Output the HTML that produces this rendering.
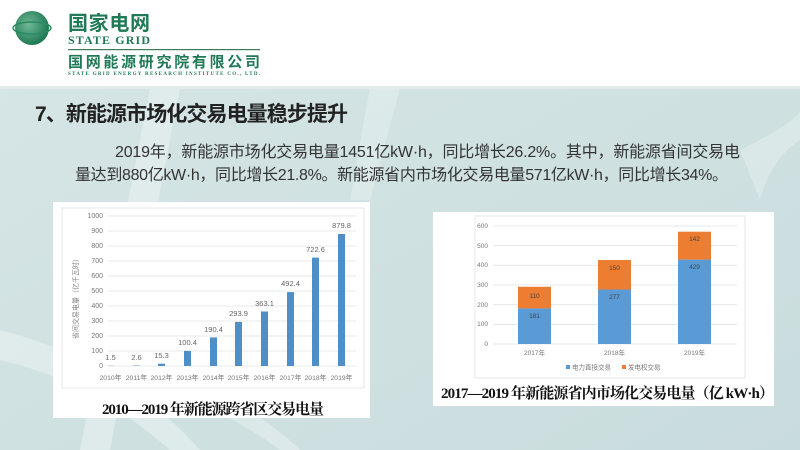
<!DOCTYPE html>
<html><head><meta charset="utf-8">
<style>
html,body{margin:0;padding:0;width:800px;height:450px;overflow:hidden;background:#fff}
svg{display:block}
</style></head><body>
<svg width="800" height="450" viewBox="0 0 800 450" xmlns="http://www.w3.org/2000/svg">
<defs>
<linearGradient id="bg" x1="0" y1="0" x2="1" y2="1">
<stop offset="0" stop-color="#d7e6e6"/><stop offset="1" stop-color="#c9dcdd"/>
</linearGradient>
<radialGradient id="globe" cx="0.4" cy="0.4" r="0.6">
<stop offset="0" stop-color="#6fb894"/><stop offset="1" stop-color="#1f7a55"/>
</radialGradient>
</defs>
<rect x="0" y="0" width="800" height="450" fill="url(#bg)"/>
<!-- light stripes -->
<path d="M150 88 L180 88 L110 450 L80 450 Z" fill="#e6efef" opacity="0.7"/>
<path d="M0 330 Q120 360 200 450 L170 450 Q90 380 0 360 Z" fill="#e6efef" opacity="0.7"/>
<path d="M190 380 Q260 410 300 450 L280 450 Q240 420 190 400 Z" fill="#e6efef" opacity="0.6"/>
<path d="M370 88 L400 88 L370 200 L350 200 Z" fill="#e3eeee" opacity="0.6"/>
<path d="M740 150 Q800 120 800 110 L800 140 Q770 160 760 200 Z" fill="#e6efef" opacity="0.5"/>
<!-- header -->
<rect x="0" y="0" width="800" height="86" fill="#ffffff"/>
<rect x="0" y="86" width="800" height="3" fill="#e2eaea"/>
<circle cx="32" cy="28" r="17" fill="url(#globe)"/>
<ellipse cx="32" cy="28" rx="19" ry="6" fill="none" stroke="#2a8a60" stroke-width="1.5"/>
<text x="68" y="30" font-family="Liberation Sans, Noto Sans CJK SC, sans-serif" font-weight="bold" font-size="20" fill="#1f7a55" textLength="82">国家电网</text>
<text x="68" y="44" font-family="Liberation Serif, serif" font-weight="bold" font-size="12" fill="#1f7a55" textLength="82">STATE GRID</text>
<rect x="68" y="49" width="192" height="1.2" fill="#3c7a5a"/>
<text x="68" y="67" font-family="Liberation Sans, Noto Sans CJK SC, sans-serif" font-weight="bold" font-size="15" fill="#1f7a55" textLength="192">国网能源研究院有限公司</text>
<text x="68" y="75" font-family="Liberation Serif, serif" font-weight="bold" font-size="5" fill="#1f7a55" textLength="192">STATE GRID ENERGY RESEARCH INSTITUTE CO., LTD.</text>
<!-- title & body -->
<text x="35" y="121" font-family="Liberation Sans, Noto Sans CJK SC, sans-serif" font-weight="bold" font-size="21" fill="#222" textLength="313">7、新能源市场化交易电量稳步提升</text>
<text x="115" y="157" font-family="Liberation Sans, Noto Sans CJK SC, sans-serif" font-size="16" fill="#333" textLength="625">2019年，新能源市场化交易电量1451亿kW·h，同比增长26.2%。其中，新能源省间交易电</text>
<text x="75" y="180" font-family="Liberation Sans, Noto Sans CJK SC, sans-serif" font-size="16" fill="#333" textLength="653">量达到880亿kW·h，同比增长21.8%。新能源省内市场化交易电量571亿kW·h，同比增长34%。</text>
<!-- left panel -->
<rect x="53" y="202" width="317" height="216" fill="#fff"/>
<rect x="62" y="208" width="302" height="180" fill="none" stroke="#e4e8ea" stroke-width="1"/>
<g font-family="Liberation Sans, sans-serif" font-size="7" fill="#777" text-anchor="end">
<g stroke="#e3e3e3" stroke-width="0.8">
<line x1="108" x2="356" y1="216" y2="216"/><line x1="108" x2="356" y1="231" y2="231"/><line x1="108" x2="356" y1="246" y2="246"/><line x1="108" x2="356" y1="261" y2="261"/><line x1="108" x2="356" y1="276" y2="276"/><line x1="108" x2="356" y1="291" y2="291"/><line x1="108" x2="356" y1="306" y2="306"/><line x1="108" x2="356" y1="321" y2="321"/><line x1="108" x2="356" y1="336" y2="336"/><line x1="108" x2="356" y1="351" y2="351"/><line x1="108" x2="356" y1="366" y2="366"/>
</g>
<text x="103" y="218">1000</text><text x="103" y="233">900</text><text x="103" y="248">800</text><text x="103" y="263">700</text><text x="103" y="278">600</text><text x="103" y="293">500</text><text x="103" y="308">400</text><text x="103" y="323">300</text><text x="103" y="338">200</text><text x="103" y="353">100</text><text x="103" y="368">0</text>
</g>
<text transform="translate(78,297) rotate(-90)" font-family="Liberation Sans, Noto Sans CJK SC, sans-serif" font-size="7" fill="#888" text-anchor="middle">省间交易电量（亿千瓦时）</text>
<g fill="#4f8fc8">
<rect x="107" y="365.8" width="7" height="0.2"/><rect x="133" y="365.6" width="7" height="0.4"/><rect x="158" y="363.7" width="7" height="2.3"/><rect x="184" y="350.9" width="7" height="15.1"/><rect x="210" y="337.4" width="7" height="28.6"/><rect x="235" y="321.9" width="7" height="44.1"/><rect x="261" y="311.5" width="7" height="54.5"/><rect x="287" y="292.1" width="7" height="73.9"/><rect x="312" y="257.6" width="7" height="108.4"/><rect x="338" y="234" width="7" height="132"/>
</g>
<g font-family="Liberation Sans, sans-serif" font-size="7.5" fill="#666" text-anchor="middle">
<text x="110.5" y="360">1.5</text><text x="136.5" y="360">2.6</text><text x="161.5" y="358">15.3</text><text x="187.5" y="345">100.4</text><text x="213.5" y="332">190.4</text><text x="238.5" y="316">293.9</text><text x="264.5" y="306">363.1</text><text x="290.5" y="286">492.4</text><text x="315.5" y="252">722.6</text><text x="341.5" y="228">879.8</text>
</g>
<g font-family="Liberation Sans, Noto Sans CJK SC, sans-serif" font-size="6.8" fill="#777" text-anchor="middle">
<text x="110.5" y="380">2010年</text><text x="136.5" y="380">2011年</text><text x="161.5" y="380">2012年</text><text x="187.5" y="380">2013年</text><text x="213.5" y="380">2014年</text><text x="238.5" y="380">2015年</text><text x="264.5" y="380">2016年</text><text x="290.5" y="380">2017年</text><text x="315.5" y="380">2018年</text><text x="341.5" y="380">2019年</text>
</g>
<text x="102" y="414" font-family="Liberation Serif, Noto Serif CJK SC, serif" font-weight="bold" font-size="15" fill="#111" textLength="222">2010—2019 年新能源跨省区交易电量</text>
<!-- right panel -->
<rect x="433" y="212" width="341" height="194" fill="#fff"/>
<rect x="475" y="216" width="270" height="162" fill="none" stroke="#e4e8ea" stroke-width="1"/>
<g stroke="#e3e3e3" stroke-width="0.8">
<line x1="493" x2="737" y1="226" y2="226"/><line x1="493" x2="737" y1="245.7" y2="245.7"/><line x1="493" x2="737" y1="265.3" y2="265.3"/><line x1="493" x2="737" y1="285" y2="285"/><line x1="493" x2="737" y1="304.7" y2="304.7"/><line x1="493" x2="737" y1="324.3" y2="324.3"/><line x1="493" x2="737" y1="344" y2="344"/>
</g>
<g font-family="Liberation Sans, sans-serif" font-size="6.5" fill="#777" text-anchor="end">
<text x="488" y="228">600</text><text x="488" y="248">500</text><text x="488" y="267">400</text><text x="488" y="287">300</text><text x="488" y="307">200</text><text x="488" y="326">100</text><text x="488" y="346">0</text>
</g>
<g fill="#5b9bd5">
<rect x="518" y="308.4" width="33" height="35.6"/><rect x="598" y="289.5" width="33" height="54.5"/><rect x="678" y="259.6" width="33" height="84.4"/>
</g>
<g fill="#ed7d31">
<rect x="518" y="286.8" width="33" height="21.6"/><rect x="598" y="260" width="33" height="29.5"/><rect x="678" y="231.7" width="33" height="27.9"/>
</g>
<g font-family="Liberation Sans, sans-serif" font-size="6.5" fill="#444" text-anchor="middle">
<text x="534.5" y="298">110</text><text x="534.5" y="318">181</text><text x="614.5" y="270">150</text><text x="614.5" y="299">277</text><text x="694.5" y="241">142</text><text x="694.5" y="269">429</text>
</g>
<g font-family="Liberation Sans, Noto Sans CJK SC, sans-serif" font-size="6.5" fill="#777" text-anchor="middle">
<text x="534.5" y="355">2017年</text><text x="614.5" y="355">2018年</text><text x="694.5" y="355">2019年</text>
</g>
<rect x="566" y="365" width="4" height="4" fill="#5b9bd5"/>
<text x="572" y="369.5" font-family="Liberation Sans, Noto Sans CJK SC, sans-serif" font-size="6.5" fill="#777">电力直接交易</text>
<rect x="622" y="365" width="4" height="4" fill="#ed7d31"/>
<text x="628" y="369.5" font-family="Liberation Sans, Noto Sans CJK SC, sans-serif" font-size="6.5" fill="#777">发电权交易</text>
<text x="441" y="398" font-family="Liberation Serif, Noto Serif CJK SC, serif" font-weight="bold" font-size="15" fill="#111" textLength="333">2017—2019 年新能源省内市场化交易电量（亿 kW·h）</text>
</svg>
</body></html>
